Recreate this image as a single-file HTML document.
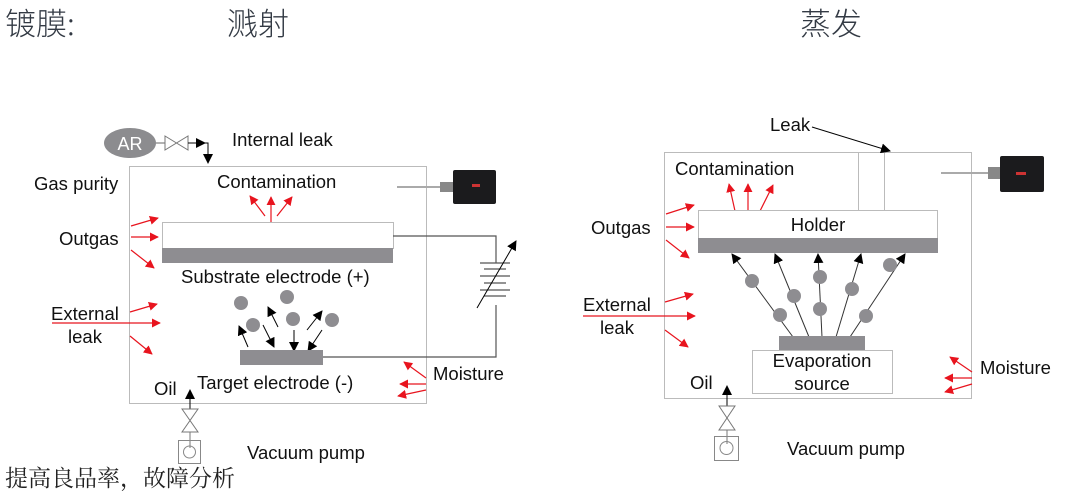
<!DOCTYPE html>
<html><head><meta charset="utf-8"><style>
html,body{margin:0;padding:0;background:#fff;}
svg{display:block;}
text{font-family:"Liberation Sans","Noto Sans CJK SC",sans-serif;fill:#111;}
.t{font-size:18.5px;}
.cn{font-family:"Noto Sans CJK SC","WenQuanYi Zen Hei",sans-serif;fill:#333a44;font-weight:300;}
</style></head><body>
<svg width="1067" height="496" viewBox="0 0 1067 496" xmlns="http://www.w3.org/2000/svg">
<defs>
<marker id="r" viewBox="0 0 10 10" refX="9" refY="5" markerWidth="9" markerHeight="9" markerUnits="userSpaceOnUse" orient="auto"><path d="M0,0L10,5L0,10z" fill="#e8141e"/></marker>
<marker id="b" viewBox="0 0 10 10" refX="9" refY="5" markerWidth="10" markerHeight="10" markerUnits="userSpaceOnUse" orient="auto"><path d="M0,0L10,5L0,10z" fill="#000"/></marker>
</defs>
<text x="5" y="35" class="cn" font-size="31">镀膜:</text>
<text x="227" y="35" class="cn" font-size="31">溅射</text>
<text x="800" y="35" class="cn" font-size="31">蒸发</text>
<text x="5" y="486" font-size="23" style="font-family:'Noto Serif CJK SC',serif;fill:#222">提高良品率，故障分析</text>

<!-- LEFT -->
<rect x="129.5" y="166.5" width="297" height="237" fill="none" stroke="#bbb"/>
<ellipse cx="130" cy="143" rx="26" ry="15" fill="#8c8c8f"/>
<text x="130" y="150" font-size="18" text-anchor="middle" style="fill:#fff">AR</text>
<line x1="156" y1="143" x2="165" y2="143" stroke="#666"/>
<path d="M165,136L188,150L188,136L165,150z" fill="none" stroke="#777"/>
<path d="M188,143H208V163" fill="none" stroke="#000" marker-end="url(#b)"/>
<line x1="188" y1="143" x2="205" y2="143" stroke="#000" marker-end="url(#b)"/>
<text x="232" y="146" class="t">Internal leak</text>
<text x="34" y="190" class="t">Gas purity</text>
<text x="217" y="188" class="t">Contamination</text>
<g stroke="#e8141e" stroke-width="1.2" marker-end="url(#r)">
<line x1="271" y1="222" x2="271" y2="197"/><line x1="265" y1="216" x2="250" y2="196"/><line x1="277" y1="216" x2="292" y2="197"/>
<line x1="131" y1="226" x2="158" y2="218"/><line x1="131" y1="237" x2="158" y2="237"/><line x1="131" y1="250" x2="154" y2="268"/>
<line x1="52" y1="323" x2="160" y2="323"/><line x1="130" y1="312" x2="157" y2="304"/><line x1="130" y1="336" x2="152" y2="354"/>
<line x1="426" y1="378" x2="404" y2="362"/><line x1="426" y1="384" x2="400" y2="384"/><line x1="426" y1="390" x2="398" y2="396"/>
</g>
<rect x="162.5" y="222.5" width="231" height="26" fill="#fff" stroke="#bbb"/>
<rect x="162" y="248" width="231" height="15" fill="#8e8d91"/>
<text x="181" y="283" class="t">Substrate electrode (+)</text>
<path d="M393,236H496V263M496,305V357H323" fill="none" stroke="#555" stroke-width="1.2"/>
<g stroke="#555" stroke-width="1.2"><line x1="480" y1="263" x2="510" y2="263"/><line x1="484" y1="269" x2="506" y2="269"/><line x1="480" y1="276" x2="510" y2="276"/><line x1="484" y1="283" x2="506" y2="283"/><line x1="480" y1="290" x2="510" y2="290"/><line x1="484" y1="296" x2="506" y2="296"/></g>
<line x1="477" y1="308" x2="516" y2="241" stroke="#000" marker-end="url(#b)"/>
<g fill="#8e8d91"><circle cx="241" cy="303" r="7"/><circle cx="287" cy="297" r="7"/><circle cx="253" cy="325" r="7"/><circle cx="293" cy="319" r="7"/><circle cx="332" cy="320" r="7"/></g>
<g stroke="#000" marker-end="url(#b)">
<line x1="248" y1="347" x2="239" y2="326"/><line x1="263" y1="325" x2="274" y2="347"/><line x1="278" y1="327" x2="268" y2="307"/><line x1="294" y1="330" x2="294" y2="351"/><line x1="307" y1="330" x2="322" y2="311"/><line x1="322" y1="330" x2="308" y2="351"/>
</g>
<rect x="240" y="350" width="83" height="15" fill="#8e8d91"/>
<text x="197" y="389" class="t">Target electrode (-)</text>
<text x="433" y="380" class="t">Moisture</text>
<text x="154" y="395" class="t">Oil</text>
<text x="59" y="245" class="t">Outgas</text>
<text x="51" y="320" class="t">External</text>
<text x="68" y="343" class="t">leak</text>
<line x1="190" y1="409" x2="190" y2="390" stroke="#000" marker-end="url(#b)"/>
<path d="M182,409L198,432L182,432L198,409z" fill="none" stroke="#777"/>
<line x1="190" y1="432" x2="190" y2="448" stroke="#777"/>
<rect x="178.5" y="440.5" width="22" height="23" fill="none" stroke="#888"/>
<circle cx="189.5" cy="452" r="6" fill="none" stroke="#888"/>
<text x="247" y="459" class="t">Vacuum pump</text>
<!-- gauge left -->
<line x1="397" y1="187" x2="445" y2="187" stroke="#aaa" stroke-width="2"/>
<rect x="440" y="182" width="14" height="10" fill="#888"/>
<rect x="453" y="170" width="43" height="34" rx="2" fill="#1b1b1d"/>
<rect x="472" y="184" width="8" height="3" fill="#c33"/>

<!-- RIGHT -->
<rect x="664.5" y="152.5" width="307" height="246" fill="none" stroke="#bbb"/>
<path d="M858.5,210V152.5H884.5V210" fill="none" stroke="#bbb"/>
<text x="770" y="131" class="t">Leak</text>
<line x1="812" y1="127" x2="890" y2="151" stroke="#000" marker-end="url(#b)"/>
<text x="675" y="175" class="t">Contamination</text>
<g stroke="#e8141e" stroke-width="1.2" marker-end="url(#r)">
<line x1="735" y1="211" x2="729" y2="184"/><line x1="748" y1="211" x2="748" y2="184"/><line x1="760" y1="211" x2="773" y2="185"/>
<line x1="666" y1="214" x2="694" y2="205"/><line x1="666" y1="227" x2="694" y2="227"/><line x1="666" y1="240" x2="689" y2="258"/>
<line x1="583" y1="316" x2="695" y2="316"/><line x1="665" y1="302" x2="693" y2="294"/><line x1="665" y1="330" x2="688" y2="347"/>
<line x1="972" y1="372" x2="950" y2="357"/><line x1="972" y1="378" x2="945" y2="378"/><line x1="972" y1="384" x2="945" y2="392"/>
</g>
<rect x="698.5" y="210.5" width="239" height="28" fill="#fff" stroke="#bbb"/>
<rect x="698" y="238" width="240" height="15" fill="#8e8d91"/>
<text x="818" y="231" class="t" text-anchor="middle">Holder</text>
<text x="591" y="234" class="t">Outgas</text>
<text x="583" y="311" class="t">External</text>
<text x="600" y="334" class="t">leak</text>
<g stroke="#333" marker-end="url(#b)">
<line x1="793" y1="337" x2="732" y2="254"/><line x1="809" y1="337" x2="775" y2="254"/><line x1="822" y1="337" x2="818" y2="254"/><line x1="836" y1="337" x2="861" y2="254"/><line x1="850" y1="337" x2="905" y2="254"/>
</g>
<g fill="#8e8d91"><circle cx="752" cy="281" r="7"/><circle cx="780" cy="315" r="7"/><circle cx="794" cy="296" r="7"/><circle cx="820" cy="309" r="7"/><circle cx="820" cy="277" r="7"/><circle cx="852" cy="289" r="7"/><circle cx="866" cy="316" r="7"/><circle cx="890" cy="265" r="7"/></g>
<rect x="779" y="336" width="86" height="14" fill="#8e8d91"/>
<rect x="752.5" y="350.5" width="140" height="43" fill="#fff" stroke="#bbb"/>
<text x="822" y="367" class="t" text-anchor="middle">Evaporation</text>
<text x="822" y="390" class="t" text-anchor="middle">source</text>
<text x="980" y="374" class="t">Moisture</text>
<text x="690" y="389" class="t">Oil</text>
<line x1="727" y1="406" x2="727" y2="386" stroke="#000" marker-end="url(#b)"/>
<path d="M719,406L735,430L719,430L735,406z" fill="none" stroke="#777"/>
<line x1="727" y1="430" x2="727" y2="444" stroke="#777"/>
<rect x="714.5" y="436.5" width="24" height="24" fill="none" stroke="#888"/>
<circle cx="726.5" cy="448" r="6.5" fill="none" stroke="#888"/>
<text x="787" y="455" class="t">Vacuum pump</text>
<!-- gauge right -->
<line x1="941" y1="173" x2="992" y2="173" stroke="#aaa" stroke-width="2"/>
<rect x="988" y="167" width="12" height="12" fill="#888"/>
<rect x="1000" y="156" width="44" height="36" rx="2" fill="#1b1b1d"/>
<rect x="1016" y="172" width="10" height="3" fill="#c33"/>
</svg>
</body></html>
